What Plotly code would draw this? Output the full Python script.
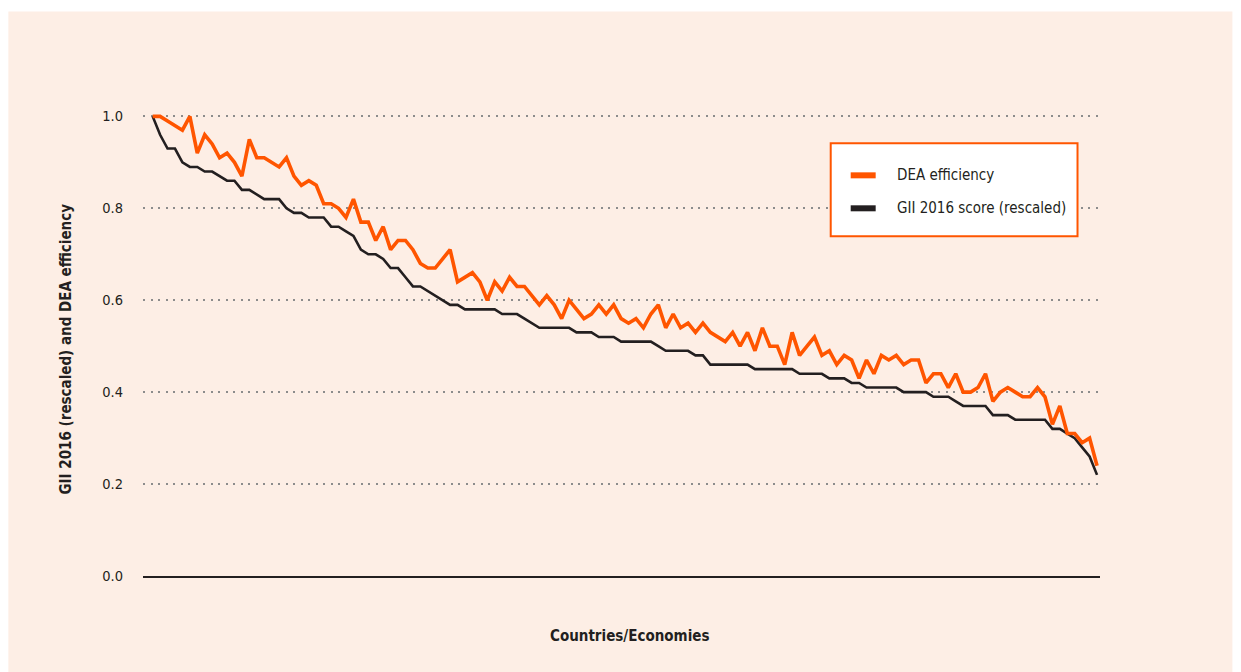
import plotly.graph_objects as go

# ---- data ----
dea_efficiency = [
    1.00, 1.00, 0.99, 0.98, 0.97, 1.00, 0.92, 0.96, 0.94, 0.91,
    0.92, 0.90, 0.87, 0.95, 0.91, 0.91, 0.90, 0.89, 0.91, 0.87,
    0.85, 0.86, 0.85, 0.81, 0.81, 0.80, 0.78, 0.82, 0.77, 0.77,
    0.73, 0.76, 0.71, 0.73, 0.73, 0.71, 0.68, 0.67, 0.67, 0.69,
    0.71, 0.64, 0.65, 0.66, 0.64, 0.60, 0.64, 0.62, 0.65, 0.63,
    0.63, 0.61, 0.59, 0.61, 0.59, 0.56, 0.60, 0.58, 0.56, 0.57,
    0.59, 0.57, 0.59, 0.56, 0.55, 0.56, 0.54, 0.57, 0.59, 0.54,
    0.57, 0.54, 0.55, 0.53, 0.55, 0.53, 0.52, 0.51, 0.53, 0.50,
    0.53, 0.49, 0.54, 0.50, 0.50, 0.46, 0.53, 0.48, 0.50, 0.52,
    0.48, 0.49, 0.46, 0.48, 0.47, 0.43, 0.47, 0.44, 0.48, 0.47,
    0.48, 0.46, 0.47, 0.47, 0.42, 0.44, 0.44, 0.41, 0.44, 0.40,
    0.40, 0.41, 0.44, 0.38, 0.40, 0.41, 0.40, 0.39, 0.39, 0.41,
    0.39, 0.33, 0.37, 0.31, 0.31, 0.29, 0.30, 0.24,
]
gii_score_rescaled = [
    1.00, 0.96, 0.93, 0.93, 0.90, 0.89, 0.89, 0.88, 0.88, 0.87,
    0.86, 0.86, 0.84, 0.84, 0.83, 0.82, 0.82, 0.82, 0.80, 0.79,
    0.79, 0.78, 0.78, 0.78, 0.76, 0.76, 0.75, 0.74, 0.71, 0.70,
    0.70, 0.69, 0.67, 0.67, 0.65, 0.63, 0.63, 0.62, 0.61, 0.60,
    0.59, 0.59, 0.58, 0.58, 0.58, 0.58, 0.58, 0.57, 0.57, 0.57,
    0.56, 0.55, 0.54, 0.54, 0.54, 0.54, 0.54, 0.53, 0.53, 0.53,
    0.52, 0.52, 0.52, 0.51, 0.51, 0.51, 0.51, 0.51, 0.50, 0.49,
    0.49, 0.49, 0.49, 0.48, 0.48, 0.46, 0.46, 0.46, 0.46, 0.46,
    0.46, 0.45, 0.45, 0.45, 0.45, 0.45, 0.45, 0.44, 0.44, 0.44,
    0.44, 0.43, 0.43, 0.43, 0.42, 0.42, 0.41, 0.41, 0.41, 0.41,
    0.41, 0.40, 0.40, 0.40, 0.40, 0.39, 0.39, 0.39, 0.38, 0.37,
    0.37, 0.37, 0.37, 0.35, 0.35, 0.35, 0.34, 0.34, 0.34, 0.34,
    0.34, 0.32, 0.32, 0.31, 0.30, 0.28, 0.26, 0.22,
]
economy_rank = list(range(1, len(dea_efficiency) + 1))
y_ticks = [0.0, 0.2, 0.4, 0.6, 0.8, 1.0]
y_tick_labels = ["0.0", "0.2", "0.4", "0.6", "0.8", "1.0"]
series_names = ["DEA efficiency", "GII 2016 score (rescaled)"]
x_title = "Countries/Economies"
y_title = "GII 2016 (rescaled) and DEA efficiency"

# ---- style ----
ORANGE = "#ff5500"
BLACK = "#231f20"
PANEL = "#fdeee5"
FONT = "Liberation Sans Narrow, DejaVu Sans Condensed, Arial Narrow, sans-serif"

OFF = 8                          # page body margin
W, H = 1241, 672
L, R = 142.75 - OFF, 1100.5 - OFF   # plot area left/right (figure px)
T, B = 97.6 - OFF, 576.0 - OFF      # plot area top/bottom (figure px)
PW, PH = R - L, B - T


def px(xp):
    """page x -> paper fraction"""
    return (xp - OFF - L) / PW


def py(yp):
    """page y -> paper fraction"""
    return (B - (yp - OFF)) / PH


fig = go.Figure()
fig.add_trace(go.Scatter(
    x=economy_rank, y=gii_score_rescaled, mode="lines", name=series_names[1],
    line=dict(color=BLACK, width=2.6), showlegend=False,
))
fig.add_trace(go.Scatter(
    x=economy_rank, y=dea_efficiency, mode="lines", name=series_names[0],
    line=dict(color=ORANGE, width=3.6), showlegend=False,
))

shapes = [
    dict(type="rect", xref="paper", yref="paper", layer="below",
         x0=px(8), x1=px(1233), y0=py(720), y1=py(11),
         fillcolor=PANEL, line=dict(width=0)),
    dict(type="rect", xref="paper", yref="paper",
         x0=px(831), x1=px(1078), y0=py(236), y1=py(143),
         fillcolor="white", line=dict(color=ORANGE, width=2)),
    dict(type="line", xref="paper", yref="paper",
         x0=px(851), x1=px(876), y0=py(175), y1=py(175),
         line=dict(color=ORANGE, width=6)),
    dict(type="line", xref="paper", yref="paper",
         x0=px(851), x1=px(876), y0=py(208), y1=py(208),
         line=dict(color=BLACK, width=6)),
]

annotations = [
    dict(text=series_names[0], xref="paper", yref="paper", x=px(895), y=py(175),
         xanchor="left", yanchor="middle", showarrow=False,
         font=dict(family=FONT, size=15, color=BLACK)),
    dict(text=series_names[1], xref="paper", yref="paper", x=px(895), y=py(208),
         xanchor="left", yanchor="middle", showarrow=False,
         font=dict(family=FONT, size=15, color=BLACK)),
    dict(text="<b>" + x_title + "</b>", xref="paper", yref="paper",
         x=px(630), y=py(636), xanchor="center", yanchor="middle", showarrow=False,
         font=dict(family=FONT, size=15, color=BLACK)),
    dict(text="<b>" + y_title + "</b>", xref="paper", yref="paper",
         x=px(66), y=py(349), xanchor="center", yanchor="middle", showarrow=False,
         textangle=-90, font=dict(family=FONT, size=15, color=BLACK)),
]

fig.update_layout(
    width=W, height=H,
    margin=dict(l=L, r=W - R, t=T, b=H - B, pad=0),
    paper_bgcolor="white",
    plot_bgcolor="rgba(0,0,0,0)",
    showlegend=False,
    shapes=shapes,
    annotations=annotations,
    font=dict(family=FONT, size=14, color=BLACK),
)
fig.update_xaxes(
    range=[economy_rank[0] - 1.3, economy_rank[-1] + 0.4],
    showgrid=False, zeroline=False, showticklabels=False, ticks="",
    showline=True, linecolor=BLACK, linewidth=2, mirror=False,
)
fig.update_yaxes(
    range=[0, 1.04], tickvals=y_ticks, ticktext=y_tick_labels,
    showgrid=True, gridcolor="#8c8c8c", gridwidth=1.5, griddash="2px,5.5px",
    zeroline=False, showline=False, ticks="",
    ticklabelstandoff=19,
    tickfont=dict(family=FONT, size=14.5, color=BLACK),
)

fig.write_html("out.html")
